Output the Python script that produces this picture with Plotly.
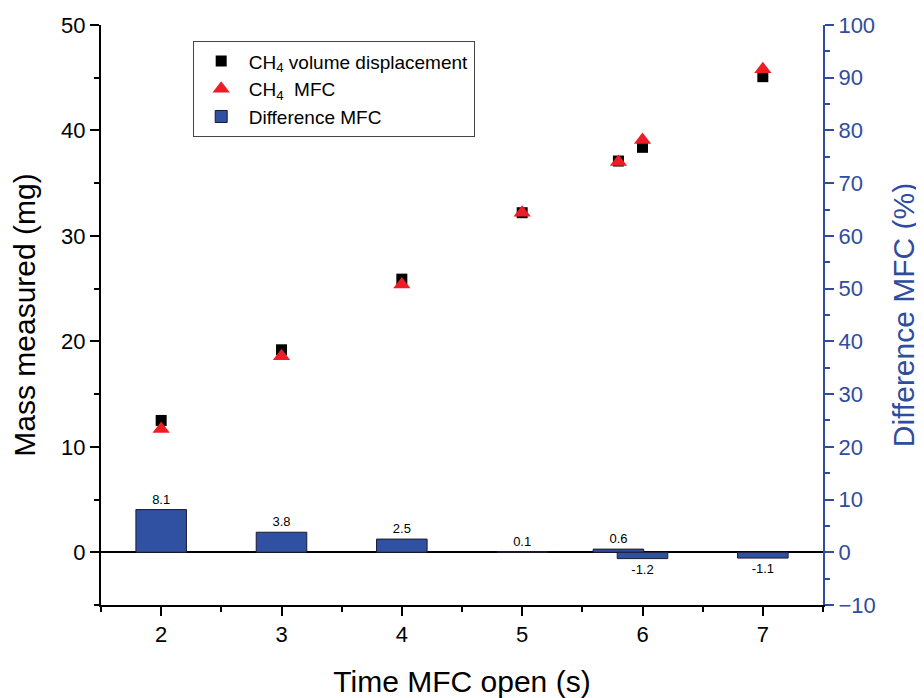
import plotly.graph_objects as go

# Data
x_vol = [2, 3, 4, 5, 5.8, 6, 7]
mass_vol = [12.5, 19.2, 25.9, 32.2, 37.1, 38.4, 45.1]
x_mfc = [2, 3, 4, 5, 5.8, 6, 7]
mass_mfc = [11.7, 18.6, 25.4, 32.2, 37.0, 39.1, 45.8]
x_diff = [2, 3, 4, 5, 5.8, 6, 7]
diff_pct = [8.1, 3.8, 2.5, 0.1, 0.6, -1.2, -1.1]
diff_labels = ["8.1", "3.8", "2.5", "0.1", "0.6", "-1.2", "-1.1"]

BLUE = "#2F4C9E"
FONT = "Liberation Sans, Arial, sans-serif"

fig = go.Figure()

fig.add_trace(go.Bar(
    x=x_diff, y=diff_pct, yaxis="y2", width=0.42,
    name="Difference MFC", legendrank=3,
    marker=dict(color="#3050A2", line=dict(color="#1a1a2e", width=1)),
    text=diff_labels, textposition="outside", cliponaxis=False,
    textfont=dict(size=13, color="black", family=FONT),
))
fig.add_trace(go.Scatter(
    x=x_vol, y=mass_vol, mode="markers", name="CH<sub>4</sub> volume displacement",
    legendrank=1,
    marker=dict(symbol="square", color="black", size=11),
))
fig.add_trace(go.Scatter(
    x=x_mfc, y=mass_mfc, mode="markers", name="CH<sub>4</sub>  MFC",
    legendrank=2,
    marker=dict(symbol="triangle-up", color="#EE1C25", size=15),
))

fig.update_layout(
    width=916, height=690,
    margin=dict(l=93, r=101, t=17, b=93),
    paper_bgcolor="white", plot_bgcolor="white",
    font=dict(family=FONT, size=22, color="black"),
    showlegend=True,
    legend=dict(
        x=0.127, y=0.972, xanchor="left", yanchor="top",
        bordercolor="#444", borderwidth=1, bgcolor="white",
        font=dict(size=19), traceorder="normal",
        itemsizing="trace", tracegroupgap=0, itemwidth=45,
    ),
    xaxis=dict(
        range=[1.5, 7.5], tickmode="linear", tick0=2, dtick=1,
        ticks="outside", ticklen=9, tickwidth=2, tickcolor="black",
        showline=True, linecolor="black", linewidth=2, showgrid=False, zeroline=False,
        minor=dict(ticks="outside", ticklen=5, tickwidth=2, tickcolor="black", dtick=0.5, tick0=1.5),
        title=dict(text="Time MFC open (s)", font=dict(size=30), standoff=26),
        tickfont=dict(size=22), automargin=False,
    ),
    yaxis=dict(
        range=[-5, 50], tickmode="linear", tick0=0, dtick=10,
        ticks="outside", ticklen=9, tickwidth=2, tickcolor="black",
        showline=True, linecolor="black", linewidth=2, showgrid=False,
        zeroline=True, zerolinecolor="black", zerolinewidth=2,
        minor=dict(ticks="outside", ticklen=5, tickwidth=2, tickcolor="black", dtick=5, tick0=0),
        title=dict(text="Mass measured (mg)", font=dict(size=30), standoff=18),
        tickfont=dict(size=22), automargin=False,
    ),
    yaxis2=dict(
        overlaying="y", side="right", anchor="x",
        range=[-10, 100], tickmode="linear", tick0=0, dtick=10,
        ticks="outside", ticklen=9, tickwidth=2, tickcolor=BLUE,
        showline=True, linecolor=BLUE, linewidth=2, showgrid=False, zeroline=False,
        minor=dict(ticks="outside", ticklen=5, tickwidth=2, tickcolor=BLUE, dtick=5, tick0=0),
        title=dict(text="Difference MFC (%)", font=dict(size=30, color=BLUE), standoff=18),
        tickfont=dict(size=22, color=BLUE), automargin=False,
    ),
)

fig.write_html("out.html")
